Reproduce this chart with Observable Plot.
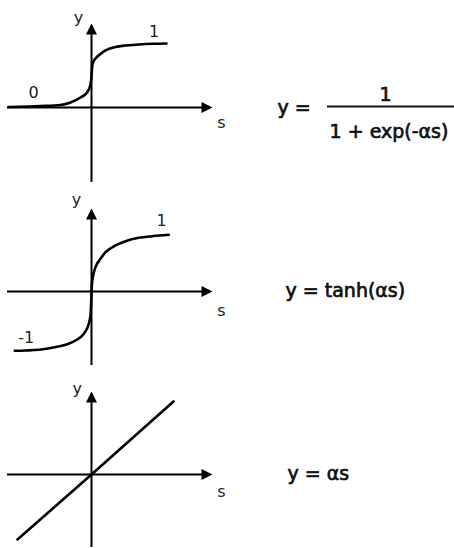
<!DOCTYPE html>
<html>
<head>
<meta charset="utf-8">
<script src="https://cdn.jsdelivr.net/npm/d3@7"></script>
<script src="https://cdn.jsdelivr.net/npm/@observablehq/plot@0.6"></script>
<style>
  html, body { margin: 0; padding: 0; background: #fff; }
  #chart { width: 454px; }
  #chart svg { display: block; }
</style>
</head>
<body>
<div id="chart"></div>
<script>
// Logistic sigmoid y = 1 / (1 + exp(-αs)), points along the drawn curve
const sigmoidS = [-0.83, -0.51, -0.31, -0.21, -0.11, -0.045, -0.01, 0, 0.008, 0.02, 0.04, 0.09, 0.14, 0.24, 0.34, 0.47, 0.61, 0.75];
const sigmoidY = [0.008, 0.023, 0.039, 0.078, 0.156, 0.234, 0.359, 0.484, 0.656, 0.719, 0.766, 0.836, 0.891, 0.945, 0.969, 0.984, 0.995, 1.0];

// Hyperbolic tangent y = tanh(αs)
const tanhS = [-0.767, -0.66, -0.527, -0.393, -0.26, -0.16, -0.077, -0.027, -0.01, -0.004, 0, 0.004, 0.013, 0.04, 0.09, 0.14, 0.24, 0.34, 0.473, 0.607, 0.773];
const tanhY = [-0.988, -0.983, -0.972, -0.938, -0.888, -0.817, -0.705, -0.538, -0.4, -0.2, 0, 0.12, 0.238, 0.405, 0.545, 0.655, 0.767, 0.838, 0.895, 0.922, 0.945];

// Linear y = αs
const linearS = [-0.74, 0, 0.82];
const linearY = [-1.083, 0, 1.217];

// Asymptote labels
const sigmoidLevels = ["0", "1"];
const tanhLevels = ["-1", "1"];

// Formulas
const sigmoidLhs = "y =";
const sigmoidNum = "1";
const sigmoidDen = "1 + exp(-αs)";
const tanhFormula = "y = tanh(αs)";
const linearFormula = "y = αs";

// Axis names
const xName = "s";
const yName = "y";

const W = 454;
const sDomain = [-0.91, 3.63];
const sAxis = [-0.84, 1.21];

// Filled arrowheads with the tip at the anchor point
const arrowRight = {draw(c) { c.moveTo(0, 0); c.lineTo(-11, -5.5); c.lineTo(-11, 5.5); c.closePath(); }};
const arrowUp = {draw(c) { c.moveTo(0, 0); c.lineTo(-5.5, 11); c.lineTo(5.5, 11); c.closePath(); }};

const labelFont = {fontFamily: "DejaVu Sans", fontSize: 16, fill: "#222"};
const formulaFont = {fontFamily: "DejaVu Sans", fontSize: 19, fill: "#111", stroke: "#111", strokeWidth: 0.7};

function toPoints(s, y) { return s.map((v, i) => ({s: v, y: y[i]})); }

function panel({height, yDomain, yAxis, points, curve, labels, extra}) {
  return Plot.plot({
    width: W,
    height,
    margin: 0,
    x: {domain: sDomain, axis: null},
    y: {domain: yDomain, axis: null},
    style: {background: "#fff", overflow: "visible"},
    marks: [
      Plot.ruleY([0], {x1: sAxis[0], x2: sAxis[1] - 0.05, stroke: "#000", strokeWidth: 2}),
      Plot.ruleX([0], {y1: yAxis[0], y2: yAxis[1] - 0.08, stroke: "#000", strokeWidth: 2}),
      Plot.dot([0], {x: sAxis[1], y: 0, symbol: arrowRight, fill: "#000", stroke: "none"}),
      Plot.dot([0], {x: 0, y: yAxis[1], symbol: arrowUp, fill: "#000", stroke: "none"}),
      Plot.line(points, {x: "s", y: "y", curve, stroke: "#000", strokeWidth: 2.6}),
      Plot.text(labels, {x: "s", y: "y", text: "text", ...labelFont}),
      ...extra
    ]
  });
}

const chart = document.getElementById("chart");

// Sigmoid panel
chart.append(panel({
  height: 188,
  yDomain: [-1.2656, 1.6719],
  yAxis: [-1.17, 1.3125],
  points: toPoints(sigmoidS, sigmoidY),
  curve: "monotone-x",
  labels: [
    {text: yName, s: -0.13, y: 1.406},
    {text: xName, s: 1.30, y: -0.248},
    {text: sigmoidLevels[0], s: -0.58, y: 0.225},
    {text: sigmoidLevels[1], s: 0.625, y: 1.189}
  ],
  extra: [
    Plot.text([sigmoidLhs], {x: 1.86, y: 0.0, text: d => d, textAnchor: "start", ...formulaFont}),
    Plot.text([sigmoidNum], {x: 2.94, y: 0.19, text: d => d, ...formulaFont}),
    Plot.ruleY([0.016], {x1: 2.36, x2: 3.63, stroke: "#111", strokeWidth: 2}),
    Plot.text([sigmoidDen], {x: 2.975, y: -0.38, text: d => d, ...formulaFont})
  ]
}));

// Tanh panel
chart.append(panel({
  height: 190,
  yDomain: [-1.45, 1.7167],
  yAxis: [-1.233, 1.383],
  points: toPoints(tanhS, tanhY),
  curve: "monotone-x",
  labels: [
    {text: yName, s: -0.15, y: 1.533},
    {text: xName, s: 1.30, y: -0.317},
    {text: tanhLevels[0], s: -0.652, y: -0.777},
    {text: tanhLevels[1], s: 0.70, y: 1.183}
  ],
  extra: [
    Plot.text([tanhFormula], {x: 1.94, y: 0.017, text: d => d, textAnchor: "start", ...formulaFont})
  ]
}));

// Linear panel
chart.append(panel({
  height: 170,
  yDomain: [-1.2333, 1.6],
  yAxis: [-1.217, 1.383],
  points: toPoints(linearS, linearY),
  curve: "linear",
  labels: [
    {text: yName, s: -0.143, y: 1.433},
    {text: xName, s: 1.30, y: -0.293}
  ],
  extra: [
    Plot.text([linearFormula], {x: 1.96, y: 0.017, text: d => d, textAnchor: "start", ...formulaFont})
  ]
}));
</script>
</body>
</html>
